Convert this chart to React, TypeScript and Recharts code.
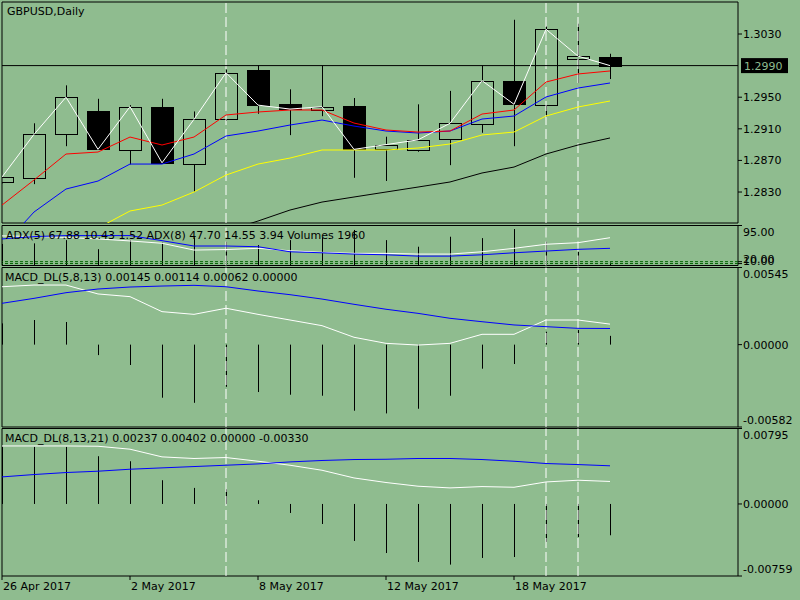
import {
  ComposedChart,
  Bar,
  Line,
  XAxis,
  YAxis,
  ReferenceLine,
  ReferenceArea,
} from "recharts";

// ---- data ----
const dates = [
  "26 Apr 2017", "27 Apr 2017", "28 Apr 2017", "1 May 2017", "2 May 2017",
  "3 May 2017", "4 May 2017", "5 May 2017", "8 May 2017", "9 May 2017",
  "10 May 2017", "11 May 2017", "12 May 2017", "15 May 2017", "16 May 2017",
  "17 May 2017", "18 May 2017", "19 May 2017", "22 May 2017", "23 May 2017",
];

const open = [1.2843, 1.2848, 1.2903, 1.2932, 1.2883, 1.2938, 1.2865, 1.2922, 1.2984, 1.2941, 1.2934, 1.2939, 1.2884, 1.2883, 1.2897, 1.2916, 1.2971, 1.294, 1.2998, 1.3001];
const high = [1.285, 1.2917, 1.2965, 1.2948, 1.294, 1.2948, 1.2932, 1.2985, 1.299, 1.296, 1.299, 1.2949, 1.29, 1.2941, 1.2958, 1.299, 1.3048, 1.304, 1.3043, 1.3005];
const low = [1.2841, 1.284, 1.2888, 1.2884, 1.2865, 1.2867, 1.283, 1.292, 1.2929, 1.2902, 1.2926, 1.2848, 1.2844, 1.2881, 1.2864, 1.2905, 1.2888, 1.2925, 1.2968, 1.2973];
const close = [1.2849, 1.2903, 1.295, 1.2884, 1.2938, 1.2867, 1.2922, 1.2981, 1.294, 1.2935, 1.2938, 1.2884, 1.289, 1.2896, 1.2917, 1.2971, 1.2941, 1.3036, 1.3002, 1.299];

const maRed = [1.28135, 1.28452, 1.28781, 1.28806, 1.28996, 1.28895, 1.28996, 1.29275, 1.29313, 1.29338, 1.29338, 1.29173, 1.29085, 1.29059, 1.29072, 1.29287, 1.29338, 1.29692, 1.29794, 1.29832];
const maBlue = [1.27604, 1.28047, 1.28338, 1.28439, 1.28654, 1.28654, 1.28781, 1.29009, 1.29072, 1.29148, 1.29211, 1.29135, 1.29072, 1.29047, 1.29072, 1.29224, 1.29262, 1.29503, 1.29616, 1.2968];
const maYellow = [1.27376, 1.27541, 1.27692, 1.27844, 1.2806, 1.28135, 1.283, 1.28515, 1.28654, 1.2873, 1.28832, 1.28832, 1.28832, 1.28857, 1.28908, 1.29022, 1.29059, 1.29262, 1.29376, 1.29452];
const maBlack = [1.27186, 1.27287, 1.27389, 1.27477, 1.27566, 1.27642, 1.27718, 1.27806, 1.27933, 1.28072, 1.28173, 1.28237, 1.283, 1.28363, 1.28427, 1.28541, 1.28616, 1.28781, 1.28895, 1.28984];

const volumes = [14000, 14400, 16500, 10600, 16500, 14800, 18300, 15400, 13300, 16500, 18300, 23100, 16500, 12200, 18700, 17800, 23700, 15400, 8900, 1960];
const adxWhite = [70.3, 69.1, 66.7, 63.1, 58.3, 52.8, 36.7, 37.9, 40.8, 35.0, 31.2, 28.8, 28.8, 27.1, 27.1, 32.6, 40.8, 50.4, 54.2, 66.0];
const adxBlue = [63.1, 68.6, 71.0, 71.0, 71.0, 59.0, 46.3, 46.3, 44.6, 32.6, 30.2, 27.1, 25.4, 22.3, 22.3, 25.4, 30.2, 34.3, 38.4, 40.8];

const macd1White = [0.00409, 0.00421, 0.00421, 0.00358, 0.00339, 0.00233, 0.00214, 0.00257, 0.00214, 0.00174, 0.00134, 0.00052, 0.00009, -0.00003, 0.00009, 0.00073, 0.00073, 0.00174, 0.00174, 0.00145];
const macd1Blue = [0.00292, 0.00327, 0.00367, 0.00393, 0.00407, 0.00414, 0.00419, 0.00409, 0.00379, 0.00353, 0.00322, 0.00285, 0.0025, 0.00221, 0.00186, 0.00162, 0.00139, 0.00127, 0.00115, 0.00114];
const macd1Hist = [0.0015, 0.00174, 0.0016, -0.00074, -0.00144, -0.00375, -0.00411, -0.00298, -0.00335, -0.00354, -0.00361, -0.00467, -0.00486, -0.00453, -0.00361, -0.0017, -0.00137, 0.00091, 0.00103, 0.00062];

const macd2White = [0.00611, 0.00611, 0.00611, 0.00608, 0.00577, 0.00496, 0.00479, 0.00489, 0.0045, 0.00408, 0.00355, 0.00274, 0.00226, 0.00187, 0.00169, 0.00183, 0.00176, 0.00232, 0.0025, 0.00237];
const macd2Blue = [0.00285, 0.0031, 0.00331, 0.00345, 0.00366, 0.0038, 0.00394, 0.00408, 0.00422, 0.00443, 0.00458, 0.00468, 0.00471, 0.00479, 0.00479, 0.00468, 0.0045, 0.00426, 0.00415, 0.00402];
const macd2Hist = [0.006, 0.00601, 0.00601, 0.00503, 0.0045, 0.0025, 0.00169, 0.00155, 0.00039, -0.00095, -0.00211, -0.0039, -0.00517, -0.00611, -0.00639, -0.00569, -0.00559, -0.004, -0.00348, -0.0033];

const priceTicks = [1.303, 1.295, 1.291, 1.287, 1.283];
const lastPrice = 1.299;
const adxTicks = [95, 9.1, 4.6];
const adxTickLabels = ["95.00", "20.00", "10.00"];
const adxLevels = [9.1, 4.6];
const macd1Ticks = [0.00545, 0, -0.00582];
const macd2Ticks = [0.00795, 0, -0.00759];
const dateTicks = [0, 4, 8, 12, 16];
const markedBars = [7, 17, 18];

const rows = dates.map((date, i) => ({
  i,
  date,
  o: open[i],
  h: high[i],
  l: low[i],
  c: close[i],
  range: [low[i], high[i]],
  red: maRed[i],
  blue: maBlue[i],
  yellow: maYellow[i],
  black: maBlack[i],
  vol: volumes[i],
  adxW: adxWhite[i],
  adxB: adxBlue[i],
  m1w: macd1White[i],
  m1b: macd1Blue[i],
  m1h: macd1Hist[i],
  m2w: macd2White[i],
  m2b: macd2Blue[i],
  m2h: macd2Hist[i],
}));

// ---- look ----
const BG = "#8FBC8F";
const FONT = "'DejaVu Sans', sans-serif";
const W = 800;
const H = 600;
const X_DOMAIN: [number, number] = [0, 23];
const axisText = { fontSize: 11, fontFamily: FONT, fill: "#000" };

const margin = (top: number, bottom: number, extra = 0) => ({
  top,
  bottom: H - bottom - extra,
  left: 2,
  right: 0,
});

function Candle(props: any) {
  const { x, y, width, height, payload } = props;
  if (!payload) return null;
  const { o, h, l, c } = payload;
  const y1 = Math.min(y, y + height);
  const y2 = Math.max(y, y + height);
  const py = (v: number) => y1 + ((h - v) / (h - l)) * (y2 - y1);
  const cx = Math.round(x + width / 2) + 0.5;
  const top = Math.round(py(Math.max(o, c))) + 0.5;
  const bot = Math.round(py(Math.min(o, c))) + 0.5;
  const bull = c >= o;
  return (
    <g>
      <line x1={cx} x2={cx} y1={y1} y2={top} stroke="#000" />
      <line x1={cx} x2={cx} y1={bot} y2={y2} stroke="#000" />
      <rect
        x={cx - 11}
        y={top}
        width={22}
        height={Math.max(bot - top, 1)}
        fill={bull ? "none" : "#000"}
        stroke="#000"
      />
    </g>
  );
}

function Stick(props: any) {
  const { x, y, width, height } = props;
  const cx = Math.round(x + width / 2) + 0.5;
  return (
    <line
      x1={cx}
      x2={cx}
      y1={Math.min(y, y + height)}
      y2={Math.max(y, y + height)}
      stroke="#000"
    />
  );
}

// value labels: top one hangs below its tick, bottom one sits above
function sideTick(fmt: (v: number) => string, top?: number, bottom?: number) {
  return (p: any) => {
    const v = p.payload.value;
    let shift = 0;
    if (v === top) shift = 7;
    if (v === bottom) shift = -7;
    return (
      <text x={p.x} y={p.y + shift} dy="0.36em" textAnchor="start" {...axisText}>
        {fmt(v)}
      </text>
    );
  };
}

function adxTick(p: any) {
  const v = p.payload.value;
  const idx = adxTicks.indexOf(v);
  const shift = v === 95 ? 7 : -3;
  return (
    <text x={p.x} y={p.y + shift} dy="0.36em" textAnchor="start" {...axisText}>
      {adxTickLabels[idx]}
    </text>
  );
}

function dateTick(p: any) {
  return (
    <text x={p.x + 1} y={p.y} dy="0.71em" textAnchor="start" {...axisText}>
      {dates[p.payload.value]}
    </text>
  );
}

function PriceTag(p: any) {
  const vb = p.viewBox;
  const x = vb.x + vb.width + 3;
  const y = vb.y;
  return (
    <g>
      <rect x={x} y={y - 7.5} width={47} height={15} fill="#000" />
      <text x={x + 3} y={y} dy="0.36em" fontSize={11} fontFamily={FONT} fill={BG}>
        {lastPrice.toFixed(4)}
      </text>
    </g>
  );
}

const layer: React.CSSProperties = { position: "absolute", left: 0, top: 0 };
const title: React.CSSProperties = {
  position: "absolute",
  fontFamily: FONT,
  fontSize: 11,
  lineHeight: "13px",
  whiteSpace: "nowrap",
  color: "#000",
};

export default function App() {
  const dashes = (id?: string) =>
    markedBars.map((b) => (
      <ReferenceLine
        key={"m" + b}
        x={b}
        yAxisId={id}
        stroke="#fff"
        strokeDasharray="10 4"
      />
    ));

  return (
    <div style={{ position: "absolute", left: 0, top: 0, width: W, height: H, background: BG, overflow: "hidden" }}>
      {/* price panel */}
      <div style={layer}>
        <ComposedChart width={W} height={H} data={rows} margin={margin(2, 223)}>
          <XAxis dataKey="i" type="number" domain={X_DOMAIN} hide allowDataOverflow />
          <YAxis
            orientation="right"
            width={62}
            domain={[1.27908, 1.30705]}
            ticks={priceTicks}
            interval={0}
            allowDataOverflow
            axisLine={false}
            tickSize={4}
            tickMargin={1}
            tickLine={{ stroke: "#000" }}
            tick={sideTick((v) => v.toFixed(4))}
          />
          <ReferenceArea x1={0} x2={23} y1={1.27908} y2={1.30705} fill="none" stroke="#000" />
          {dashes()}
          <ReferenceLine y={lastPrice} stroke="#000" label={PriceTag} />
          <Bar dataKey="range" barSize={22} shape={Candle} isAnimationActive={false} />
          <Line dataKey="black" stroke="#000" dot={false} strokeWidth={1} isAnimationActive={false} />
          <Line dataKey="yellow" stroke="#ffff00" dot={false} strokeWidth={1} isAnimationActive={false} />
          <Line dataKey="blue" stroke="#0000ff" dot={false} strokeWidth={1} isAnimationActive={false} />
          <Line dataKey="red" stroke="#ff0000" dot={false} strokeWidth={1} isAnimationActive={false} />
          <Line dataKey="c" stroke="#ffffff" dot={false} strokeWidth={1} isAnimationActive={false} />
        </ComposedChart>
      </div>

      {/* ADX + volumes panel */}
      <div style={layer}>
        <ComposedChart width={W} height={H} data={rows} margin={margin(225.5, 265.5)}>
          <XAxis dataKey="i" type="number" domain={X_DOMAIN} hide allowDataOverflow />
          <YAxis yAxisId="vol" hide domain={[0, 26000]} allowDataOverflow />
          <YAxis
            yAxisId="adx"
            orientation="right"
            width={62}
            domain={[0, 95]}
            ticks={adxTicks}
            interval={0}
            allowDataOverflow
            axisLine={false}
            tickSize={4}
            tickMargin={1}
            tickLine={{ stroke: "#000" }}
            tick={adxTick}
          />
          <ReferenceArea yAxisId="adx" x1={0} x2={23} y1={0} y2={95} fill="none" stroke="#000" />
          {adxLevels.map((lv) => (
            <ReferenceLine key={lv} yAxisId="adx" y={lv} stroke="#006400" strokeDasharray="3 2" />
          ))}
          {dashes("adx")}
          <Bar yAxisId="vol" dataKey="vol" barSize={2} shape={Stick} isAnimationActive={false} />
          <Line yAxisId="adx" dataKey="adxW" stroke="#ffffff" dot={false} isAnimationActive={false} />
          <Line yAxisId="adx" dataKey="adxB" stroke="#0000ff" dot={false} isAnimationActive={false} />
        </ComposedChart>
      </div>

      {/* MACD 5,8,13 */}
      <div style={layer}>
        <ComposedChart width={W} height={H} data={rows} margin={margin(267.5, 427)}>
          <XAxis dataKey="i" type="number" domain={X_DOMAIN} hide allowDataOverflow />
          <YAxis
            orientation="right"
            width={62}
            domain={[-0.00582, 0.00545]}
            ticks={macd1Ticks}
            interval={0}
            allowDataOverflow
            axisLine={false}
            tickSize={4}
            tickMargin={1}
            tickLine={{ stroke: "#000" }}
            tick={sideTick((v) => v.toFixed(5), 0.00545, -0.00582)}
          />
          <ReferenceArea x1={0} x2={23} y1={-0.00582} y2={0.00545} fill="none" stroke="#000" />
          {dashes()}
          <Bar dataKey="m1h" barSize={2} shape={Stick} isAnimationActive={false} />
          <Line dataKey="m1w" stroke="#ffffff" dot={false} isAnimationActive={false} />
          <Line dataKey="m1b" stroke="#0000ff" dot={false} isAnimationActive={false} />
        </ComposedChart>
      </div>

      {/* MACD 8,13,21 + date axis */}
      <div style={layer}>
        <ComposedChart width={W} height={H} data={rows} margin={margin(428.5, 576, 22)}>
          <XAxis
            dataKey="i"
            type="number"
            domain={X_DOMAIN}
            ticks={dateTicks}
            interval={0}
            allowDataOverflow
            height={22}
            axisLine={false}
            tickSize={4}
            tickMargin={2}
            tickLine={{ stroke: "#000" }}
            tick={dateTick}
          />
          <YAxis
            orientation="right"
            width={62}
            domain={[-0.00759, 0.00795]}
            ticks={macd2Ticks}
            interval={0}
            allowDataOverflow
            axisLine={false}
            tickSize={4}
            tickMargin={1}
            tickLine={{ stroke: "#000" }}
            tick={sideTick((v) => v.toFixed(5), 0.00795, -0.00759)}
          />
          <ReferenceArea x1={0} x2={23} y1={-0.00759} y2={0.00795} fill="none" stroke="#000" />
          {dashes()}
          <Bar dataKey="m2h" barSize={2} shape={Stick} isAnimationActive={false} />
          <Line dataKey="m2w" stroke="#ffffff" dot={false} isAnimationActive={false} />
          <Line dataKey="m2b" stroke="#0000ff" dot={false} isAnimationActive={false} />
        </ComposedChart>
      </div>

      <div style={{ ...title, left: 7, top: 5 }}>GBPUSD,Daily</div>
      <div style={{ ...title, left: 6, top: 229 }}>
        ADX(5) 67.88 10.43 1.52 ADX(8) 47.70 14.55 3.94 Volumes 1960
      </div>
      <div style={{ ...title, left: 5, top: 271 }}>
        MACD_DL(5,8,13) 0.00145 0.00114 0.00062 0.00000
      </div>
      <div style={{ ...title, left: 5, top: 432 }}>
        MACD_DL(8,13,21) 0.00237 0.00402 0.00000 -0.00330
      </div>
    </div>
  );
}
